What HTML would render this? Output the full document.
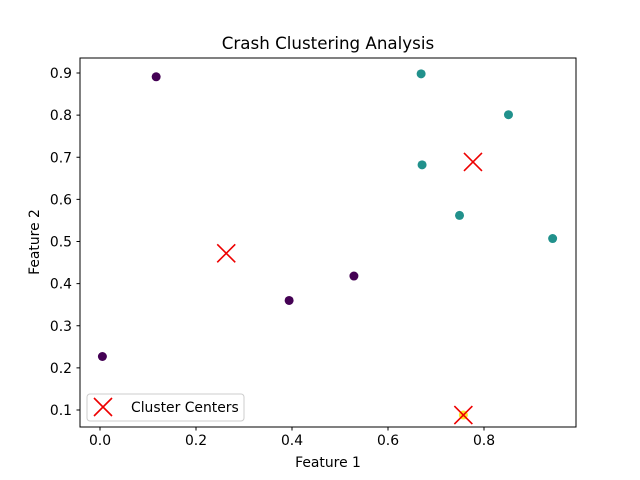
<!DOCTYPE html>
<html><head><meta charset="utf-8"><style>
html,body{margin:0;padding:0;background:#fff;}
svg{display:block;font-family:"DejaVu Sans","Liberation Sans",sans-serif;}
</style></head><body>
<svg id="chart" width="640" height="480">
<rect width="640" height="480" fill="#fff"/>
<text x="328" y="49" font-size="16.7" text-anchor="middle">Crash Clustering Analysis</text>
<g id="axes"></g>
<g id="marks"></g>
<rect x="80" y="58" width="496" height="369" fill="none" stroke="#000" stroke-width="1"/>
<text x="328" y="467" font-size="13.9" text-anchor="middle">Feature 1</text>
<text x="39" y="242" font-size="13.9" text-anchor="middle" transform="rotate(-90 39 242)">Feature 2</text>
<g>
<rect x="87" y="394" width="157" height="27" rx="3" fill="#fff" fill-opacity="0.8" stroke="#ccc"/>
<path d="M94 398 L112 416 M112 398 L94 416" stroke="#e00" stroke-width="1.6"/>
<text x="131" y="412" font-size="13.9">Cluster Centers</text>
</g>
</svg>
<script>
const xTicks=[0.0,0.2,0.4,0.6,0.8];
const yTicks=[0.1,0.2,0.3,0.4,0.5,0.6,0.7,0.8,0.9];
const pointsX=[0.005,0.117,0.394,0.529,0.757,0.669,0.671,0.851,0.749,0.943];
const pointsY=[0.227,0.891,0.360,0.418,0.088,0.898,0.682,0.801,0.562,0.507];
const pointsCluster=[0,0,0,0,2,1,1,1,1,1];
const centersX=[0.263,0.777,0.757];
const centersY=[0.472,0.689,0.088];
const colors=["#440154","#21918c","#fde725"];
const NS="http://www.w3.org/2000/svg";
function sx(v){return 100+v*480;}
function sy(v){return 410-(v-0.1)*421.25;}
const axes=document.getElementById('axes'),marks=document.getElementById('marks');
function mk(tag,attrs,parent){const e=document.createElementNS(NS,tag);for(const k in attrs)e.setAttribute(k,attrs[k]);parent.appendChild(e);return e;}
xTicks.forEach(t=>{
  const l=mk('line',{x1:sx(t),x2:sx(t),y1:427,y2:430.5,stroke:'#000'},axes);
  
  
  const tx=mk('text',{x:sx(t),y:445,'font-size':13.9,'text-anchor':'middle'},axes);
  tx.textContent=t.toFixed(1);
  
  
});
yTicks.forEach(t=>{
  const l=mk('line',{x1:76.5,x2:80,y1:sy(t),y2:sy(t),stroke:'#000'},axes);
  
  
  const tx=mk('text',{x:72,y:sy(t)+5,'font-size':13.9,'text-anchor':'end'},axes);
  tx.textContent=t.toFixed(1);
  
  
});
pointsX.forEach((x,i)=>{
  const c=mk('circle',{cx:sx(x),cy:sy(pointsY[i]),r:4.5,fill:colors[pointsCluster[i]]},marks);
  
  
});
centersX.forEach((x,i)=>{
  const cx=sx(x),cy=sy(centersY[i]),h=9;
  const p=mk('path',{d:`M${cx-h} ${cy-h} L${cx+h} ${cy+h} M${cx+h} ${cy-h} L${cx-h} ${cy+h}`,stroke:'#e00','stroke-width':1.6},marks);
  
  
});
</script>
</body></html>
